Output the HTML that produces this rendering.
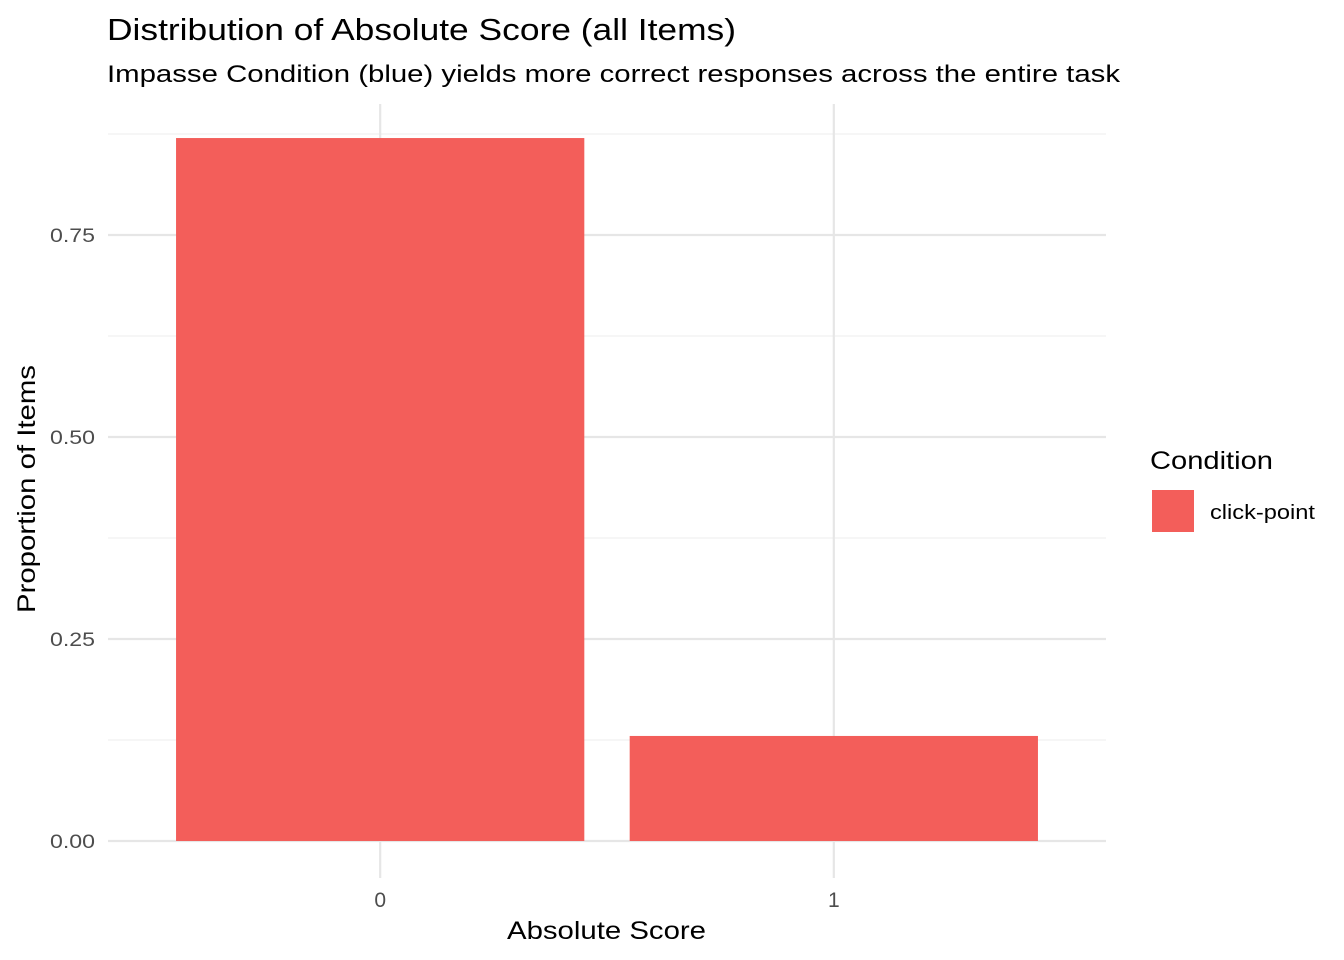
<!DOCTYPE html>
<html><head><meta charset="utf-8"><style>
html,body{margin:0;padding:0;background:#fff;}
svg{display:block;font-family:"Liberation Sans",Arial,sans-serif;}
</style></head><body>
<svg id="chart" width="1344" height="960" viewBox="0 0 1344 960">
<text x="107" y="40" font-size="31" textLength="629" lengthAdjust="spacingAndGlyphs" fill="#000">Distribution of Absolute Score (all Items)</text>
<text x="107" y="82" font-size="24.5" textLength="1013" lengthAdjust="spacingAndGlyphs" fill="#000">Impasse Condition (blue) yields more correct responses across the entire task</text>
<g id="grid"></g>
<g id="bars"></g>
<g id="ticks"></g>
<text x="507" y="939" font-size="25" textLength="199" lengthAdjust="spacingAndGlyphs" fill="#000">Absolute Score</text>
<text transform="translate(35,613) rotate(-90)" font-size="25" textLength="248" lengthAdjust="spacingAndGlyphs" fill="#000">Proportion of Items</text>
<g>
<text x="1150" y="469" font-size="25" textLength="123" lengthAdjust="spacingAndGlyphs" fill="#000">Condition</text>
<rect x="1152" y="490" width="42" height="42" fill="#F35E5A"/>
<text x="1210" y="519" font-size="20" textLength="105" lengthAdjust="spacingAndGlyphs" fill="#000">click-point</text>
</g>
</svg>
<script>
const categories = ["0","1"];
const values = [0.87, 0.13];
const yTicks = [0, 0.25, 0.5, 0.75];
const yTickLabels = ["0.00","0.25","0.50","0.75"];
const yMinor = [0.125, 0.375, 0.625, 0.875];

const ns="http://www.w3.org/2000/svg";
const px0=108, px1=1106, pyTop=104, pyBot=878;
const y0=841, yScale=808;
const y=v=>y0-v*yScale;
const band=(px1-px0)/(categories.length+0.2);
const x=i=>px0+band*(0.6+i);
function mk(tag,attrs,parent){const e=document.createElementNS(ns,tag);for(const k in attrs)e.setAttribute(k,attrs[k]);parent.appendChild(e);return e;}
const grid=document.getElementById('grid'),bars=document.getElementById('bars'),ticks=document.getElementById('ticks');
yMinor.forEach(v=>{const l=mk('line',{x1:px0,x2:px1,y1:y(v),y2:y(v),stroke:'#f0f0f0','stroke-width':1.2},grid);

});
yTicks.forEach((v,i)=>{const l=mk('line',{x1:px0,x2:px1,y1:y(v),y2:y(v),stroke:'#e6e6e6','stroke-width':2.2},grid);


const t=mk('text',{x:50,y:y(v)+7,'font-size':19,textLength:45,lengthAdjust:'spacingAndGlyphs',fill:'#4d4d4d'},ticks);t.textContent=yTickLabels[i];

});
categories.forEach((c,i)=>{const l=mk('line',{x1:x(i),x2:x(i),y1:pyTop,y2:pyBot,stroke:'#e6e6e6','stroke-width':2.2},grid);


const bw=band*0.9;
const r=mk('rect',{x:x(i)-bw/2,y:y(values[i]),width:bw,height:y(0)-y(values[i]),fill:'#F35E5A'},bars);


const t=mk('text',{x:x(i),y:907,'font-size':21,'text-anchor':'middle',fill:'#4d4d4d'},ticks);t.textContent=c;

});
</script>
</body></html>
